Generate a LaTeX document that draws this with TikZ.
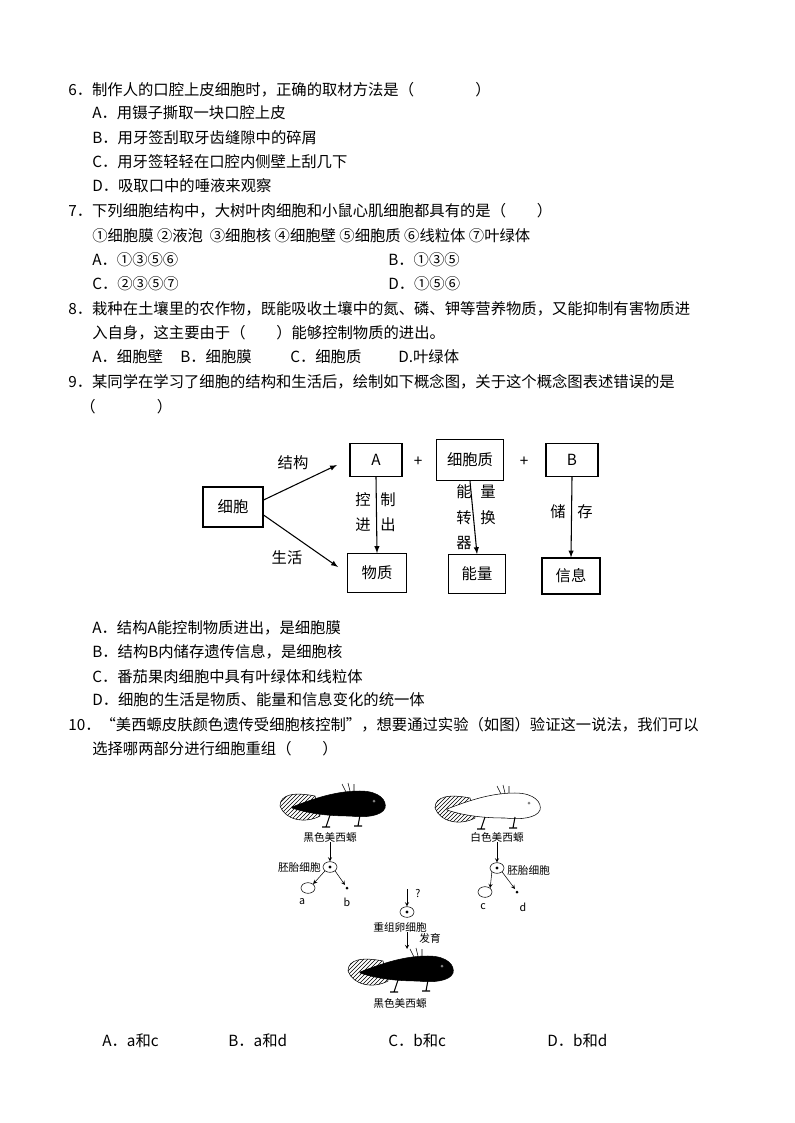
\documentclass[tikz,border=0pt]{standalone}
\usepackage{fontspec}
\setmainfont{Noto Sans CJK SC}
\usetikzlibrary{patterns,shapes.geometric}
\begin{document}
\begin{tikzpicture}[x=0.75pt,y=-0.75pt,
  t/.style={anchor=west,inner sep=0,font=\fontsize{11.5}{13}\selectfont},
  bx/.style={draw,thick,inner sep=0,font=\fontsize{11.5}{13}\selectfont},
  lb/.style={inner sep=0,font=\fontsize{11.5}{13}\selectfont},
  sm/.style={inner sep=0,font=\fontsize{8}{9}\selectfont},
  cellE/.style={draw,ellipse,minimum width=10.5pt,minimum height=8pt,inner sep=0},
  arr/.style={-latex,thick},
  pics/sal/.style={code={
    \draw[pattern=north east lines] (0,20) .. controls (0,8) and (15,6) .. (35,10) -- (40,30) .. controls (25,38) and (5,34) .. (0,20);
    \draw[fill=#1] (12,21) .. controls (40,10) and (60,5) .. (80,5) .. controls (100,5) and (107,15) .. (105,22) .. controls (102,30) and (85,32) .. (70,30) .. controls (50,30) and (30,28) .. (12,22) -- cycle;
    \draw[thick] (80,29) -- (78,40) (74,40)--(82,40) (50,29) -- (46,41) (42,41)--(50,41);
    \draw (66,6) -- (62,-2) (70,5) -- (68,-3) (74,5) -- (74,-2);
    \fill[gray] (94,15) circle (1.5);
  }}]
\useasboundingbox (0,0) rectangle (794,1123);
\node[t] (q6) at (68,90) {6．制作人的口腔上皮细胞时，正确的取材方法是（\hspace{4em}）};
\node[t] (q6a) at (92,113) {A．用镊子撕取一块口腔上皮};
\node[t] (q6b) at (92,138) {B．用牙签刮取牙齿缝隙中的碎屑};
\node[t] (q6c) at (92,162) {C．用牙签轻轻在口腔内侧壁上刮几下};
\node[t] (q6d) at (92,186) {D．吸取口中的唾液来观察};
\node[t] (q7) at (68,211) {7．下列细胞结构中，大树叶肉细胞和小鼠心肌细胞都具有的是（\hspace{2em}）};
\node[t] (q7o) at (92,236) {①细胞膜 ②液泡\ \ ③细胞核 ④细胞壁 ⑤细胞质 ⑥线粒体 ⑦叶绿体};
\node[t] (q7a) at (92,260) {A．①③⑤⑥};
\node[t] (q7b) at (388,260) {B．①③⑤};
\node[t] (q7c) at (92,284) {C．②③⑤⑦};
\node[t] (q7d) at (388,284) {D．①⑤⑥};
\node[t] (q8) at (68,309) {8．栽种在土壤里的农作物，既能吸收土壤中的氮、磷、钾等营养物质，又能抑制有害物质进};
\node[t] (q8b) at (92,333) {入自身，这主要由于（\hspace{2em}）能够控制物质的进出。};
\node[t] (q8o1) at (92,357) {A．细胞壁};
\node[t] (q8o2) at (180,357) {B．细胞膜};
\node[t] (q8o3) at (290,357) {C．细胞质};
\node[t] (q8o4) at (398,357) {D.叶绿体};
\node[t] (q9) at (68,382) {9．某同学在学习了细胞的结构和生活后，绘制如下概念图，关于这个概念图表述错误的是};
\node[t] (q9b) at (80,407) {（\hspace{4em}）};
% concept map
\node[bx,minimum width=45pt,minimum height=30pt] (cell) at (233,507) {细胞};
\node[bx,minimum width=39pt,minimum height=25pt] (A) at (376,460) {A};
\node[bx,minimum width=50pt,minimum height=31pt] (cyt) at (470,460) {细胞质};
\node[bx,minimum width=39pt,minimum height=25pt] (B) at (572,460) {B};
\node[bx,minimum width=44pt,minimum height=29pt] (mat) at (377,573) {物质};
\node[bx,minimum width=43pt,minimum height=29pt] (en) at (477,574) {能量};
\node[bx,minimum width=43.5pt,minimum height=27pt] (inf) at (571,576) {信息};
\node[lb] (p1) at (418,462) {+};
\node[lb] (p2) at (524,462) {+};
\draw[arr] (cell.east|-0,500) -- (337,465);
\draw[arr] (cell.east|-0,515) -- (338,567);
\node[lb] (jg) at (293,463) {结构};
\node[lb] (sh) at (287,558) {生活};
\draw[arr] (A.south) -- (mat.north);
\draw[arr] (cyt.south) -- (en.north);
\draw[arr] (B.south) -- (inf.north);
\node[lb] (k1) at (363,500) {控};
\node[lb] (k2) at (388,500) {制};
\node[lb] (k3) at (363,525) {进};
\node[lb] (k4) at (388,525) {出};
\node[lb] (n1) at (464,492) {能};
\node[lb] (n2) at (488,492) {量};
\node[lb] (n3) at (464,518) {转};
\node[lb] (n4) at (488,518) {换};
\node[lb] (n5) at (464,543) {器};
\node[lb] (c1) at (558,512) {储};
\node[lb] (c2) at (585,512) {存};
\node[t] (o9a) at (92,628) {A．结构A能控制物质进出，是细胞膜};
\node[t] (o9b) at (92,652) {B．结构B内储存遗传信息，是细胞核};
\node[t] (o9c) at (92,677) {C．番茄果肉细胞中具有叶绿体和线粒体};
\node[t] (o9d) at (92,700) {D．细胞的生活是物质、能量和信息变化的统一体};
\node[t] (q10) at (68,725) {10．“美西螈皮肤颜色遗传受细胞核控制”，想要通过实验（如图）验证这一说法，我们可以};
\node[t] (q10b) at (92,749) {选择哪两部分进行细胞重组（\hspace{2em}）};
% figure
\pic at (280,786) {sal=black};
\pic at (435,788) {sal=white};
\pic at (348,951) {sal=black};
\node[sm] (l1) at (330,837) {黑色美西螈};
\node[sm] (l2) at (497,837) {白色美西螈};
\node[cellE] (e1) at (330,867) {};
\fill (e1.center) circle (1.6);
\draw[arr,thin,-stealth] (l1.south) -- (e1.north);
\node[sm,anchor=east] (p1l) at (321,867) {胚胎细胞};
\node[cellE] (ea) at (308,888) {};
\coordinate (eb) at (347,888);
\fill (eb) circle (1.5);
\draw[-stealth] (e1.south west) -- (ea.north east);
\draw[-stealth] (e1.south east) -- ([shift={(-2,-3)}]eb);
\node[sm] (la) at (302,902) {a};
\node[sm] (lbb) at (347,902) {b};
\node[cellE] (e2) at (497,868) {};
\fill (e2.center) circle (1.6);
\draw[arr,thin,-stealth] (l2.south) -- (e2.north);
\node[sm,anchor=west] (p2l) at (507,870) {胚胎细胞};
\node[cellE] (ec) at (485,892) {};
\coordinate (ed) at (517,892);
\fill (ed) circle (1.5);
\draw[-stealth] (e2.south west) -- (ec.north east);
\draw[-stealth] (e2.south east) -- ([shift={(-2,-3)}]ed);
\node[sm] (lc) at (483,907) {c};
\node[sm] (ld) at (523,907) {d};
\node[cellE] (e3) at (407,912) {};
\fill (e3.center) circle (1.6);
\coordinate (qtop) at (407,889);
\draw[arr,thin,-stealth] (qtop) -- (e3.north);
\node[sm] (lq) at (418,893) {?};
\node[sm] (l3) at (400,927) {重组卵细胞};
\draw[arr,thin,-stealth] (l3.south-|e3) -- (407,949);
\node[sm] (fy) at (430,938) {发育};
\node[sm] (l4) at (400,1003) {黑色美西螈};
\node[t] (a1) at (102,1041) {A．a和c};
\node[t] (a2) at (228,1041) {B．a和d};
\node[t] (a3) at (388,1041) {C．b和c};
\node[t] (a4) at (547,1041) {D．b和d};
\end{tikzpicture}
\end{document}
